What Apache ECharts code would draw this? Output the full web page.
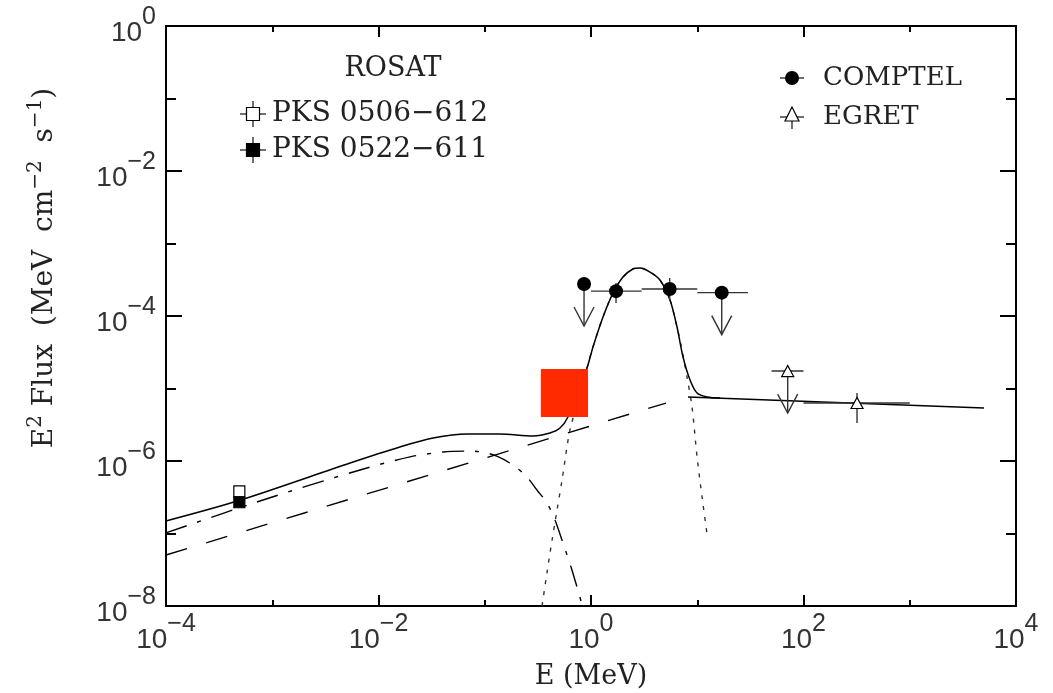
<!DOCTYPE html>
<html>
<head>
<meta charset="UTF-8">
<script src="https://cdn.jsdelivr.net/npm/echarts@6/dist/echarts.min.js"></script>
<style>
  html, body { margin: 0; padding: 0; background: #fff; }
  #main { width: 1053px; height: 693px; }
</style>
</head>
<body>
<div id="main"></div>
<script>
// E in MeV, E^2 flux in MeV cm^-2 s^-1
var rosatE = [4.9e-4];
var rosat0506 = [3.8e-7];
var rosat0522 = [2.7e-7];

// COMPTEL: points, energy bins, flux errors (0 = none), upper limits
var comptelE   = [0.86, 1.72, 5.5, 17];
var comptelF   = [2.76e-4, 2.2e-4, 2.36e-4, 2.1e-4];
var comptelElo = [0, 1, 3, 10];
var comptelEhi = [0, 3, 10, 30];
var comptelFlo = [0, 1.51e-4, 1.66e-4, 0];
var comptelFhi = [0, 2.85e-4, 3.34e-4, 0];
var comptelUL  = [1, 0, 0, 1];

var egretE   = [71, 319];
var egretF   = [1.74e-5, 6.3e-6];
var egretElo = [50, 100];
var egretEhi = [100, 1000];
var egretFlo = [0, 3.34e-6];
var egretFhi = [0, 8.67e-6];
var egretUL  = [1, 0];

// red box (energy range, flux range)
var boxE = [0.338, 0.937];
var boxF = [4.05e-6, 1.86e-5];

// model curves
var totalModel = [
  [1e-4, 1.49e-7], [4.86e-4, 2.85e-7], [5.4e-3, 9.38e-7], [0.0159, 1.56e-6],
  [0.0326, 2.07e-6], [0.0681, 2.36e-6], [0.139, 2.36e-6], [0.284, 2.21e-6],
  [0.411, 2.43e-6], [0.511, 2.85e-6], [0.607, 4.05e-6], [0.755, 9.6e-6],
  [0.917, 1.92e-5], [1.044, 3.74e-5], [1.297, 9.7e-5], [1.61, 2.07e-4],
  [2.0, 3.45e-4], [2.48, 4.45e-4], [2.89, 4.59e-4], [3.59, 4.04e-4],
  [4.46, 3.14e-4], [5.54, 1.66e-4], [6.45, 7.05e-5], [7.35, 2.72e-5],
  [8.55, 1.31e-5], [9.96, 8.67e-6], [12.4, 7.63e-6], [16.4, 7.4e-6]
];
var hardPL = [[8.18, 7.63e-6], [5000, 5.38e-6]];
var softPL = [[1e-4, 5.05e-8], [5.08, 6.3e-6]];
var syncComp = [
  [1e-4, 1.02e-7], [8.18e-4, 2.9e-7], [6.7e-3, 7.52e-7], [0.0198, 1.14e-6],
  [0.0405, 1.33e-6], [0.0681, 1.37e-6], [0.0942, 1.33e-6], [0.130, 1.17e-6],
  [0.184, 8.8e-7], [0.250, 6.0e-7], [0.310, 3.98e-7], [0.385, 2.64e-7],
  [0.458, 1.54e-7], [0.545, 7.4e-8], [0.662, 3.14e-8], [0.83, 1.0e-8]
];
var mevBump = [
  [0.346, 1e-8], [0.385, 2.85e-8], [0.430, 8.1e-8], [0.479, 2.11e-7],
  [0.534, 5.47e-7], [0.594, 1.56e-6], [0.634, 2.68e-6], [0.755, 6.9e-6],
  [0.917, 1.92e-5], [1.044, 3.74e-5], [1.297, 9.7e-5], [1.61, 2.07e-4],
  [2.0, 3.45e-4], [2.48, 4.45e-4], [2.89, 4.59e-4], [3.59, 4.04e-4],
  [4.46, 3.14e-4], [5.54, 1.66e-4], [6.45, 7.05e-5], [7.03, 3.98e-5],
  [8.01, 1.44e-5], [8.93, 5.56e-6], [9.96, 1.14e-6], [11.1, 3.18e-7], [12.4, 9.5e-8]
];

function rows(E, F, elo, ehi, flo, fhi, ul) {
  return E.map(function (e, i) { return [e, F[i], elo[i], ehi[i], flo[i], fhi[i], ul[i]]; });
}
function pairs(E, F) {
  return E.map(function (e, i) { return [e, F[i]]; });
}

var ink = '#222';
var serif = 'DejaVu Serif';
var tickFont = 'Liberation Sans';

function expLabel(v) {
  var p = Math.round(Math.log(v) / Math.LN10);
  return '{b|10}{e|' + (p < 0 ? '\u2212' + (-p) : p) + '}';
}
var labelRich = {
  b: { fontFamily: tickFont, fontSize: 28, color: '#333', verticalAlign: 'bottom' },
  e: { fontFamily: tickFont, fontSize: 25, color: '#333', verticalAlign: 'bottom', padding: [0, 0, 17, 0] }
};

function errRender(params, api) {
  var E = api.value(0), F = api.value(1);
  var elo = api.value(2), ehi = api.value(3), flo = api.value(4), fhi = api.value(5), ul = api.value(6);
  var c = api.coord([E, F]);
  var st = { stroke: '#333', lineWidth: 1.4, fill: null };
  var kids = [];
  if (elo > 0) {
    var a = api.coord([elo, F]), b = api.coord([ehi, F]);
    kids.push({ type: 'line', shape: { x1: a[0], y1: a[1], x2: b[0], y2: b[1] }, style: st });
  }
  if (flo > 0) {
    var lo = api.coord([E, flo]), hi = api.coord([E, fhi]);
    kids.push({ type: 'line', shape: { x1: lo[0], y1: lo[1], x2: hi[0], y2: hi[1] }, style: st });
  }
  if (ul) {
    var yb = c[1] + 42;
    kids.push({ type: 'line', shape: { x1: c[0], y1: c[1], x2: c[0], y2: yb }, style: st });
    kids.push({ type: 'polyline', shape: { points: [[c[0] - 10, yb - 19], [c[0], yb], [c[0] + 10, yb - 19]] }, style: st });
  }
  return { type: 'group', children: kids };
}

function boxRender(params, api) {
  var p1 = api.coord([boxE[0], boxF[1]]);
  var p2 = api.coord([boxE[1], boxF[0]]);
  return { type: 'rect', shape: { x: p1[0], y: p1[1], width: p2[0] - p1[0], height: p2[1] - p1[1] },
           style: { fill: '#ff2a00' } };
}

function logAxis(extra) {
  var base = {
    type: 'log', logBase: 10, gridIndex: 0,
    splitLine: { show: false },
    axisLine: { show: true, lineStyle: { color: '#000', width: 2 } },
    axisTick: { show: true, inside: true, lineStyle: { color: '#000', width: 2 } },
    axisLabel: { show: false }
  };
  return Object.assign(base, extra);
}

var myChart = echarts.init(document.getElementById('main'), null, { renderer: 'canvas' });

var option = {
  backgroundColor: '#fff',
  animation: false,
  grid: { left: 166, top: 26, right: 37, bottom: 87, containLabel: false, outerBoundsMode: 'none' },
  xAxis: [
    logAxis({
      min: 1e-4, max: 1e4, interval: 2, position: 'bottom',
      axisTick: { show: true, inside: true, length: 11, lineStyle: { color: '#000', width: 2 } },
      axisLabel: { show: true, margin: 6, formatter: expLabel, rich: labelRich }
    }),
    logAxis({ min: 1e-4, max: 1e4, interval: 1, position: 'bottom', axisLine: { show: false },
              axisTick: { show: true, inside: true, length: 6, lineStyle: { color: '#000', width: 2 } } }),
    logAxis({ min: 1e-4, max: 1e4, interval: 2, position: 'top',
              axisTick: { show: true, inside: true, length: 11, lineStyle: { color: '#000', width: 2 } } }),
    logAxis({ min: 1e-4, max: 1e4, interval: 1, position: 'top', axisLine: { show: false },
              axisTick: { show: true, inside: true, length: 6, lineStyle: { color: '#000', width: 2 } } })
  ],
  yAxis: [
    logAxis({
      min: 1e-8, max: 1, interval: 2, position: 'left',
      axisTick: { show: true, inside: true, length: 16, lineStyle: { color: '#000', width: 2 } },
      axisLabel: { show: true, margin: 10, formatter: expLabel, rich: labelRich }
    }),
    logAxis({ min: 1e-8, max: 1, interval: 1, position: 'left', axisLine: { show: false },
              axisTick: { show: true, inside: true, length: 10, lineStyle: { color: '#000', width: 2 } } }),
    logAxis({ min: 1e-8, max: 1, interval: 2, position: 'right',
              axisTick: { show: true, inside: true, length: 16, lineStyle: { color: '#000', width: 2 } } }),
    logAxis({ min: 1e-8, max: 1, interval: 1, position: 'right', axisLine: { show: false },
              axisTick: { show: true, inside: true, length: 10, lineStyle: { color: '#000', width: 2 } } })
  ],
  graphic: [
    // axis titles
    { type: 'text', x: 591, y: 677, z: 10,
      style: { text: 'E (MeV)', fontFamily: serif, fontSize: 27, fill: ink, align: 'center', verticalAlign: 'middle' } },
    { type: 'text', x: 42, y: 268, rotation: Math.PI / 2, z: 10,
      style: { text: '{n|E}{s|2}{n| Flux  (MeV  cm}{s|\u22122}{n|  s}{s|\u22121}{n|)}',
               align: 'center', verticalAlign: 'middle',
               rich: { n: { fontFamily: serif, fontSize: 28, fill: ink, verticalAlign: 'bottom' },
                       s: { fontFamily: serif, fontSize: 20, fill: ink, verticalAlign: 'bottom', padding: [0, 0, 13, 0] } } } },
    // ROSAT legend
    { type: 'text', x: 393, y: 69, z: 10,
      style: { text: 'ROSAT', fontFamily: serif, fontSize: 27, fill: ink, align: 'center', verticalAlign: 'middle' } },
    { type: 'line', z: 10, shape: { x1: 240, y1: 114, x2: 266, y2: 114 }, style: { stroke: '#333', lineWidth: 1.4 } },
    { type: 'line', z: 10, shape: { x1: 253, y1: 101, x2: 253, y2: 127 }, style: { stroke: '#333', lineWidth: 1.4 } },
    { type: 'rect', z: 11, shape: { x: 246.5, y: 107.5, width: 13, height: 13 }, style: { fill: '#fff', stroke: '#000', lineWidth: 1.2 } },
    { type: 'text', x: 272, y: 114, z: 10,
      style: { text: 'PKS 0506\u2212612', fontFamily: serif, fontSize: 28, fill: ink, verticalAlign: 'middle' } },
    { type: 'line', z: 10, shape: { x1: 240, y1: 150, x2: 266, y2: 150 }, style: { stroke: '#333', lineWidth: 1.4 } },
    { type: 'line', z: 10, shape: { x1: 253, y1: 137, x2: 253, y2: 163 }, style: { stroke: '#333', lineWidth: 1.4 } },
    { type: 'rect', z: 11, shape: { x: 246.5, y: 143.5, width: 13, height: 13 }, style: { fill: '#000', stroke: '#000', lineWidth: 1.2 } },
    { type: 'text', x: 272, y: 150, z: 10,
      style: { text: 'PKS 0522\u2212611', fontFamily: serif, fontSize: 28, fill: ink, verticalAlign: 'middle' } },
    // COMPTEL / EGRET legend
    { type: 'line', z: 10, shape: { x1: 780, y1: 78, x2: 804, y2: 78 }, style: { stroke: '#333', lineWidth: 1.4 } },
    { type: 'circle', z: 11, shape: { cx: 792, cy: 78, r: 7 }, style: { fill: '#000' } },
    { type: 'text', x: 823, y: 78, z: 10,
      style: { text: 'COMPTEL', fontFamily: serif, fontSize: 26, fill: ink, verticalAlign: 'middle' } },
    { type: 'line', z: 10, shape: { x1: 780, y1: 117, x2: 804, y2: 117 }, style: { stroke: '#333', lineWidth: 1.4 } },
    { type: 'line', z: 10, shape: { x1: 792, y1: 117, x2: 792, y2: 129 }, style: { stroke: '#333', lineWidth: 1.4 } },
    { type: 'polygon', z: 11, shape: { points: [[792, 107], [785, 121], [799, 121]] }, style: { fill: '#fff', stroke: '#000', lineWidth: 1.2 } },
    { type: 'text', x: 823, y: 117, z: 10,
      style: { text: 'EGRET', fontFamily: serif, fontSize: 26, fill: ink, verticalAlign: 'middle' } }
  ],
  series: [
    { type: 'line', name: 'soft PL', data: softPL, showSymbol: false, z: 2,
      lineStyle: { color: '#000', width: 1.4, type: [22, 20] } },
    { type: 'line', name: 'synchrotron', data: syncComp, showSymbol: false, smooth: 0.3, z: 2,
      lineStyle: { color: '#000', width: 1.4, type: [22, 11, 4, 11] } },
    { type: 'line', name: 'MeV bump', data: mevBump, showSymbol: false, smooth: 0.3, z: 2,
      lineStyle: { color: '#333', width: 1.4, type: [4, 7] } },
    { type: 'line', name: 'hard PL', data: hardPL, showSymbol: false, z: 3,
      lineStyle: { color: '#000', width: 1.5 } },
    { type: 'line', name: 'total', data: totalModel, showSymbol: false, smooth: 0.3, z: 3,
      lineStyle: { color: '#000', width: 1.5 } },
    { type: 'custom', name: 'box', data: [[boxE[0], boxF[0]]], renderItem: boxRender, z: 5 },
    { type: 'custom', name: 'COMPTEL err', data: rows(comptelE, comptelF, comptelElo, comptelEhi, comptelFlo, comptelFhi, comptelUL),
      encode: { x: 0, y: 1 }, renderItem: errRender, z: 6 },
    { type: 'custom', name: 'EGRET err', data: rows(egretE, egretF, egretElo, egretEhi, egretFlo, egretFhi, egretUL),
      encode: { x: 0, y: 1 }, renderItem: errRender, z: 6 },
    { type: 'scatter', name: 'COMPTEL', data: pairs(comptelE, comptelF), symbol: 'circle', symbolSize: 14, z: 7,
      itemStyle: { color: '#000', opacity: 1 } },
    { type: 'scatter', name: 'EGRET', data: pairs(egretE, egretF), symbol: 'triangle', symbolSize: [12, 11], z: 7,
      itemStyle: { color: '#fff', borderColor: '#000', borderWidth: 1.2, opacity: 1 } },
    { type: 'scatter', name: 'PKS 0506-612', data: pairs(rosatE, rosat0506), symbol: 'rect', symbolSize: 11, z: 7,
      itemStyle: { color: '#fff', borderColor: '#000', borderWidth: 1.2, opacity: 1 } },
    { type: 'scatter', name: 'PKS 0522-611', data: pairs(rosatE, rosat0522), symbol: 'rect', symbolSize: 11, z: 7,
      itemStyle: { color: '#000', borderColor: '#000', borderWidth: 1.2, opacity: 1 } }
  ]
};

myChart.setOption(option);
</script>
</body>
</html>
